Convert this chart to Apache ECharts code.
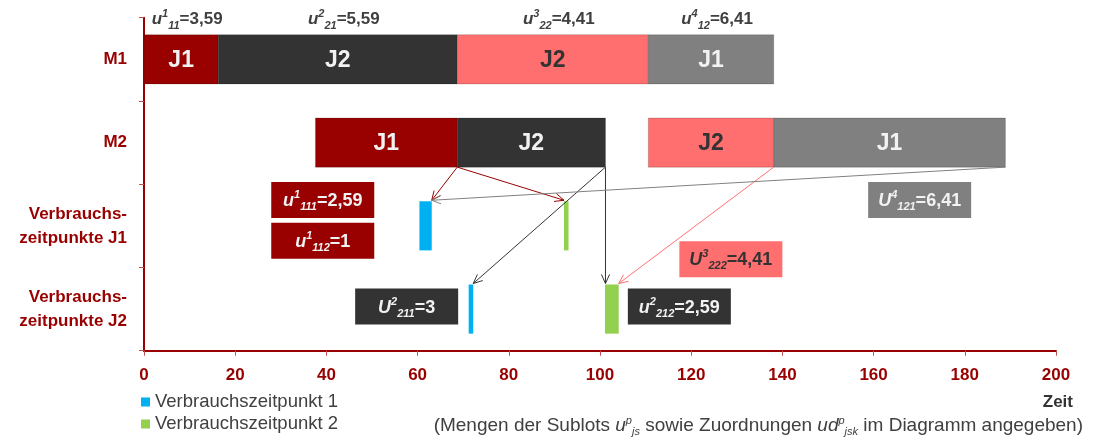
<!DOCTYPE html>
<html>
<head>
<meta charset="utf-8">
<script src="https://cdn.jsdelivr.net/npm/echarts@6/dist/echarts.min.js"></script>
<style>
html,body{margin:0;padding:0;background:#fff}
#chart{width:1093px;height:439px}
</style>
</head>
<body>
<div id="chart"></div>
<script>
// Zeilen der y-Achse
var rows = ['M1', 'M2', 'Verbrauchs-\nzeitpunkte J1', 'Verbrauchs-\nzeitpunkte J2'];
// Sublots p = 1..4
var sublotJob = ['J1', 'J2', 'J2', 'J1'];
var sublotIdx = ['11', '21', '22', '12'];
var sublotQty = ['3,59', '5,59', '4,41', '6,41'];
var m1Start = [0, 16.3, 68.7, 110.6];
var m1End = [16.3, 68.7, 110.6, 138.1];
var m2Start = [37.6, 68.7, 110.6, 138.1];
var m2End = [68.7, 101.2, 138.1, 188.9];
// Verbrauchszeitpunkte
var useRow = [2, 2, 3, 3];
var usePoint = [1, 2, 1, 2];
var useStart = [60.4, 92.1, 71.2, 101.1];
var useEnd = [63.1, 93.1, 72.2, 104.1];
// Zuordnungen ud
var assignSublot = [0, 0, 1, 1, 2, 3];
var assignUse = [0, 1, 2, 3, 3, 0];
var assignSym = ['u', 'u', 'U', 'u', 'U', 'U'];
var assignIdx = ['111', '112', '211', '212', '222', '121'];
var assignQty = ['2,59', '1', '3', '2,59', '4,41', '6,41'];

// Layout / Stil
var FONT = "'Liberation Sans', Arial, sans-serif";
var RED = '#990000';
var sublotColor = ['#990000', '#333333', '#ff6f6f', '#808080'];
var sublotText = ['#f2f2f2', '#f2f2f2', '#333333', '#f2f2f2'];
var useColor = {1: '#00b0f0', 2: '#92d050'};
// Lage der Beschriftungskästen: [Zeit, Zeile]
var boxPos = [[39.2, 1.69], [39.2, 2.18], [57.6, 2.97], [117.4, 2.97], [128.7, 2.40], [170.1, 1.69]];
var BAR = 0.59;

function rich(color, size) {
    var s = size || 18;
    return {
        v: {fontFamily: FONT, fontSize: s, fontWeight: 'bold', fontStyle: 'italic', fill: color, lineHeight: 23},
        sup: {fontFamily: FONT, fontSize: 11, fontWeight: 'bold', fontStyle: 'italic', fill: color, verticalAlign: 'top', lineHeight: 13},
        sub: {fontFamily: FONT, fontSize: 11, fontWeight: 'bold', fontStyle: 'italic', fill: color, verticalAlign: 'bottom', lineHeight: 13},
        n: {fontFamily: FONT, fontSize: s, fontWeight: 'bold', fill: color, lineHeight: 23}
    };
}
function label(sym, sup, sub, val) {
    return '{v|' + sym + '}{sup|' + sup + '}{sub|' + sub + '}{n|=' + val + '}';
}

var ganttData = [];
for (var p = 0; p < sublotJob.length; p++) {
    ganttData.push([0, m1Start[p], m1End[p], p]);
    ganttData.push([1, m2Start[p], m2End[p], p]);
}
var useData = {1: [], 2: []};
for (var k = 0; k < useRow.length; k++) {
    useData[usePoint[k]].push([useRow[k], useStart[k], useEnd[k]]);
}
var assignData = [];
for (var a = 0; a < assignSublot.length; a++) {
    var u = assignUse[a];
    // Pfeilziel: naechster Punkt des Verbrauchsbalkens
    var tx = Math.min(Math.max(m2End[assignSublot[a]], useStart[u]), useEnd[u]);
    assignData.push([m2End[assignSublot[a]], 1, tx, useRow[u], a]);
}

function renderGantt(params, api) {
    var row = api.value(0);
    var p = api.value(3);
    var s = api.coord([api.value(1), row]);
    var e = api.coord([api.value(2), row]);
    var h = api.size([0, 1])[1] * BAR;
    var children = [{
        type: 'rect',
        shape: {x: s[0], y: s[1] - h / 2, width: e[0] - s[0], height: h},
        style: {fill: sublotColor[p], stroke: 'rgba(0,0,0,0.18)', lineWidth: 1}
    }, {
        type: 'text',
        x: (s[0] + e[0]) / 2, y: s[1] + 1,
        style: {text: sublotJob[p], fill: sublotText[p], fontFamily: FONT, fontSize: 23, fontWeight: 'bold',
            align: 'center', verticalAlign: 'middle'}
    }];
    if (row === 0) {
        children.push({
            type: 'text',
            x: (s[0] + e[0]) / 2 + 6, y: s[1] - h / 2 - 15,
            style: {text: label('u', p + 1, sublotIdx[p], sublotQty[p]), rich: rich('#404040', 17),
                align: 'center', verticalAlign: 'middle'}
        });
    }
    return {type: 'group', children: children};
}

function renderUse(params, api) {
    var row = api.value(0);
    var s = api.coord([api.value(1), row]);
    var e = api.coord([api.value(2), row]);
    var h = api.size([0, 1])[1] * BAR;
    return {
        type: 'rect',
        shape: {x: s[0], y: s[1] - h / 2, width: Math.max(e[0] - s[0], 3), height: h},
        style: api.style()
    };
}

function arrow(x1, y1, x2, y2, color) {
    var ang = Math.atan2(y2 - y1, x2 - x1), L = 10, w = 0.42;
    return [{
        type: 'line', shape: {x1: x1, y1: y1, x2: x2, y2: y2},
        style: {stroke: color, lineWidth: 1}
    }, {
        type: 'polyline',
        shape: {points: [[x2 - L * Math.cos(ang - w), y2 - L * Math.sin(ang - w)], [x2, y2],
            [x2 - L * Math.cos(ang + w), y2 - L * Math.sin(ang + w)]]},
        style: {stroke: color, fill: null, lineWidth: 1}
    }];
}

function renderAssign(params, api) {
    var i = api.value(4);
    var p = assignSublot[i];
    var h = api.size([0, 1])[1] * BAR;
    var band = api.size([0, 1])[1];
    var from = api.coord([api.value(0), api.value(1)]);
    var to = api.coord([api.value(2), api.value(3)]);
    var children = arrow(from[0], from[1] + h / 2, to[0], to[1] - h / 2 - 1, sublotColor[p]);
    var c = api.coord([boxPos[i][0], 0]);
    var cy = c[1] + boxPos[i][1] * band;
    children.push({
        type: 'rect',
        shape: {x: c[0] - 51.5, y: cy - 18, width: 103, height: 36},
        style: {fill: sublotColor[p]}
    });
    children.push({
        type: 'text', x: c[0], y: cy + 1,
        style: {text: label(assignSym[i], p + 1, assignIdx[i], assignQty[i]), rich: rich(sublotText[p]),
            align: 'center', verticalAlign: 'middle'}
    });
    return {type: 'group', children: children};
}

var myChart = echarts.init(document.getElementById('chart'));
var option = {
    animation: false,
    grid: {left: 144, right: 37, top: 17.7, bottom: 88.3},
    legend: {
        data: ['Verbrauchszeitpunkt 1', 'Verbrauchszeitpunkt 2'],
        orient: 'vertical', left: 141, top: 392, height: 80,
        icon: 'rect', itemWidth: 9, itemHeight: 9, itemGap: 2, padding: 0,
        selectedMode: false,
        textStyle: {fontFamily: FONT, fontSize: 18.5, color: '#404040', lineHeight: 20}
    },
    xAxis: {
        type: 'value', min: 0, max: 200, interval: 20,
        axisLine: {show: true, lineStyle: {color: RED, width: 2}},
        axisTick: {show: true, length: 5, lineStyle: {color: '#c05050', width: 1}},
        splitLine: {show: false},
        axisLabel: {margin: 16, color: RED, fontFamily: FONT, fontSize: 17, fontWeight: 'bold'}
    },
    yAxis: {
        type: 'category', data: rows, inverse: true,
        axisLine: {show: true, lineStyle: {color: RED, width: 2}},
        axisTick: {show: true, length: 5, lineStyle: {color: '#c05050', width: 1}},
        splitLine: {show: false},
        axisLabel: {margin: 17, color: RED, fontFamily: FONT, fontSize: 17, fontWeight: 'bold',
            lineHeight: 24, align: 'right'}
    },
    series: [{
        name: 'Sublots', type: 'custom', renderItem: renderGantt,
        encode: {x: [1, 2], y: 0}, data: ganttData, z: 2
    }, {
        name: 'Verbrauchszeitpunkt 1', type: 'custom', renderItem: renderUse,
        itemStyle: {color: useColor[1]},
        encode: {x: [1, 2], y: 0}, data: useData[1], z: 3
    }, {
        name: 'Verbrauchszeitpunkt 2', type: 'custom', renderItem: renderUse,
        itemStyle: {color: useColor[2]},
        encode: {x: [1, 2], y: 0}, data: useData[2], z: 3
    }, {
        name: 'Zuordnungen', type: 'custom', renderItem: renderAssign,
        encode: {x: [0, 2], y: [1, 3]}, data: assignData, z: 4
    }],
    graphic: [{
        type: 'text', right: 20, top: 394,
        style: {text: 'Zeit', fill: '#333333', fontFamily: FONT, fontSize: 17, fontWeight: 'bold'}
    }, {
        type: 'text', right: 10, top: 415,
        style: {
            text: '{t|(Mengen der Sublots }{i|u}{s|p}{b|js}{t| sowie Zuordnungen }{i|ud}{s|p}{b|jsk}{t| im Diagramm angegeben)}',
            rich: {
                t: {fontFamily: FONT, fontSize: 19, fill: '#404040', lineHeight: 22},
                i: {fontFamily: FONT, fontSize: 19, fontStyle: 'italic', fill: '#404040', lineHeight: 22},
                s: {fontFamily: FONT, fontSize: 11, fontStyle: 'italic', fill: '#404040', verticalAlign: 'top', lineHeight: 12},
                b: {fontFamily: FONT, fontSize: 11, fontStyle: 'italic', fill: '#404040', verticalAlign: 'bottom', lineHeight: 12}
            }
        }
    }]
};
myChart.setOption(option);
</script>
</body>
</html>
